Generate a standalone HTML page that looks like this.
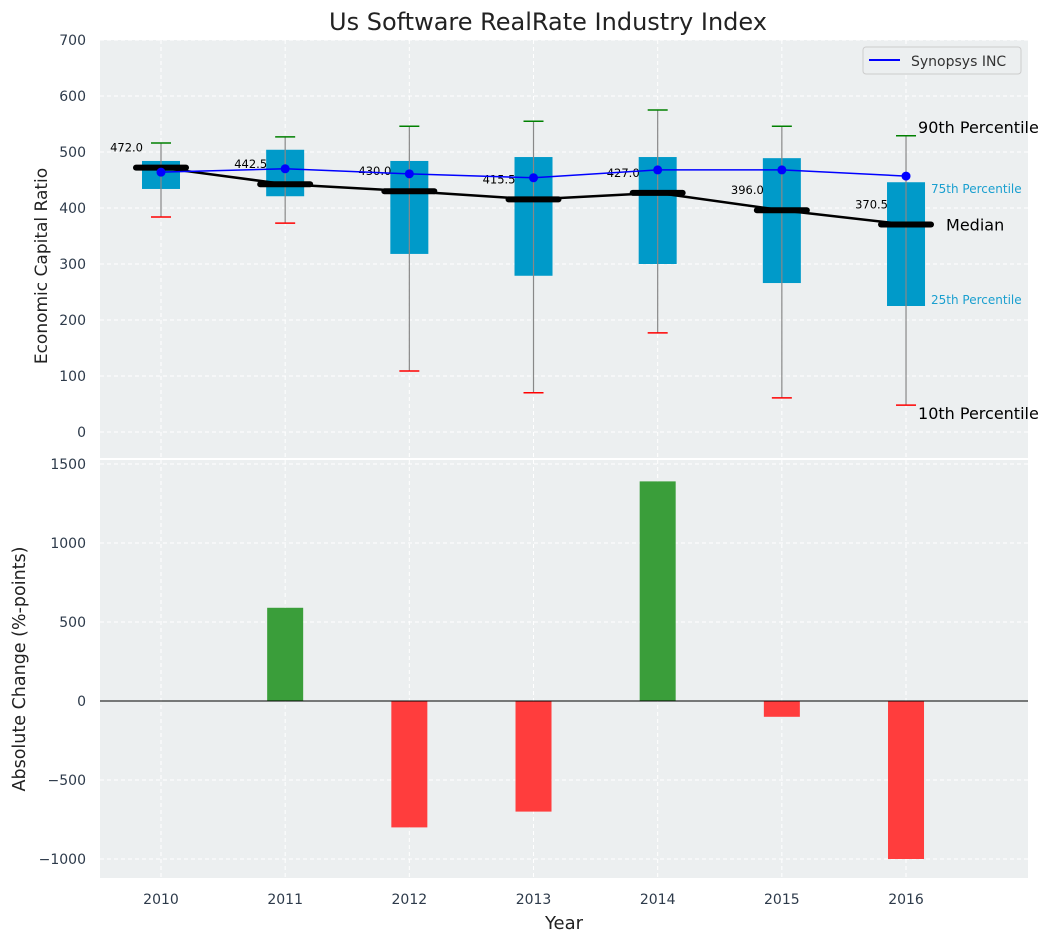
<!DOCTYPE html>
<html><head><meta charset="utf-8"><style>
body{margin:0;background:#fff;font-family:"Liberation Sans","DejaVu Sans",sans-serif}
svg text{font-family:"DejaVu Sans","Liberation Sans",sans-serif}
</style></head><body>
<svg id="c" width="1053" height="942" viewBox="0 0 1053 942"></svg>
<script>
const years=[2010,2011,2012,2013,2014,2015,2016];
const p10=[384,373,109,70,177,61,48];
const p25=[434,421,318,279,300,266,225];
const median=[472,442.5,430,415.5,427,396,370.5];
const p75=[484,504,484,491,491,489,446];
const p90=[516,527,546,555,575,546,529];
const company=[464,470,461,454,468,468,457];
const changes=[0,590,-800,-700,1390,-100,-1000];
const yTicks1=[0,100,200,300,400,500,600,700];
const yTicks2=[-1000,-500,0,500,1000,1500];

const NS="http://www.w3.org/2000/svg";
const svg=document.getElementById('c');
function el(t,a,p){const e=document.createElementNS(NS,t);for(const k in a)e.setAttribute(k,a[k]);(p||svg).appendChild(e);return e;}
const L=100,R=1028;
const x=v=>161+(v-2010)*124.17;
const y1=v=>432-v*0.56;
const y2=v=>701-v*0.158;

let bg1=el('rect',{x:L,y:40,width:R-L,height:418,fill:'#eceff0'});

let bg2=el('rect',{x:L,y:460,width:R-L,height:418,fill:'#eceff0'});


years.forEach(yr=>{
 el('line',{x1:x(yr),x2:x(yr),y1:40,y2:458,stroke:'#fff','stroke-dasharray':'4,3'});
 el('line',{x1:x(yr),x2:x(yr),y1:460,y2:878,stroke:'#fff','stroke-dasharray':'4,3'});
 let t=el('text',{x:x(yr),y:904,'text-anchor':'middle','font-size':14,fill:'#2d3a4a'});t.textContent=yr;
 
});
yTicks1.forEach(v=>{
 el('line',{x1:L,x2:R,y1:y1(v),y2:y1(v),stroke:'#fff','stroke-dasharray':'4,3'});
 let t=el('text',{x:86,y:y1(v)+5,'text-anchor':'end','font-size':14,fill:'#2d3a4a'});t.textContent=v;
 
});
yTicks2.forEach(v=>{
 el('line',{x1:L,x2:R,y1:y2(v),y2:y2(v),stroke:'#fff','stroke-dasharray':'4,3'});
 let t=el('text',{x:86,y:y2(v)+5,'text-anchor':'end','font-size':14,fill:'#2d3a4a'});t.textContent=(v<0?'\u2212'+(-v):v);
 
});

years.forEach((yr,i)=>{
 const cx=x(yr);
 let b=el('rect',{x:cx-19,y:y1(p75[i]),width:38,height:y1(p25[i])-y1(p75[i]),fill:'#009ac9'});
 
 el('line',{x1:cx,x2:cx,y1:y1(p90[i]),y2:y1(p10[i]),stroke:'#888','stroke-width':1.2});
 let g=el('line',{x1:cx-10,x2:cx+10,y1:y1(p90[i]),y2:y1(p90[i]),stroke:'green','stroke-width':1.5});
 
 let r=el('line',{x1:cx-10,x2:cx+10,y1:y1(p10[i]),y2:y1(p10[i]),stroke:'red','stroke-width':1.5});
 
});
let mp=el('polyline',{points:years.map((yr,i)=>x(yr)+','+y1(median[i])).join(' '),fill:'none',stroke:'#000','stroke-width':2.5});

years.forEach((yr,i)=>{
 const cx=x(yr);
 let m=el('line',{x1:cx-25,x2:cx+25,y1:y1(median[i]),y2:y1(median[i]),stroke:'#000','stroke-width':6,'stroke-linecap':'round'});
 
 let t=el('text',{x:cx-18,y:y1(median[i])-16,'text-anchor':'end','font-size':11.5,fill:'#000'});t.textContent=median[i].toFixed(1);
 
});
let cl=el('polyline',{points:years.map((yr,i)=>x(yr)+','+y1(company[i])).join(' '),fill:'none',stroke:'#0000ff','stroke-width':1.5});

years.forEach((yr,i)=>{
 let c=el('circle',{cx:x(yr),cy:y1(company[i]),r:4.5,fill:'#0000ff'});
 
});
const lx=x(2016);
[['90th Percentile',lx+12,y1(p90[6])-3,16,'#000'],['10th Percentile',lx+12,y1(p10[6])+14,16,'#000'],
 ['Median',lx+40,y1(median[6])+6,16,'#000'],['75th Percentile',lx+25,y1(p75[6])+11,12,'#1a9fcf'],['25th Percentile',lx+25,y1(p25[6])-2,12,'#1a9fcf']].forEach(a=>{
 let t=el('text',{x:a[1],y:a[2],'font-size':a[3],fill:a[4]});t.textContent=a[0];
 
});
let lg=el('rect',{x:863,y:47,width:158,height:27,rx:3,fill:'#eceff0',stroke:'#ccc'});

el('line',{x1:869,x2:900,y1:60,y2:60,stroke:'#0000ff','stroke-width':2});
let lt=el('text',{x:911,y:66,'font-size':14,fill:'#333'});lt.textContent='Synopsys INC';


years.forEach((yr,i)=>{
 const v=changes[i];
 if(v===0)return;
 let b=el('rect',{x:x(yr)-18,y:Math.min(y2(v),y2(0)),width:36,height:Math.abs(y2(v)-y2(0)),fill:v>0?'#3a9e3a':'#ff3d3d'});
 
});
el('line',{x1:L,x2:R,y1:y2(0),y2:y2(0),stroke:'#000','stroke-width':1});

let tt=el('text',{x:548,y:30,'text-anchor':'middle','font-size':24,fill:'#222'});tt.textContent='Us Software RealRate Industry Index';

let ya=el('text',{x:47,y:266,'text-anchor':'middle','font-size':17,fill:'#222',transform:'rotate(-90 47 266)'});ya.textContent='Economic Capital Ratio';

let yb=el('text',{x:25,y:669,'text-anchor':'middle','font-size':17.5,fill:'#222',transform:'rotate(-90 25 669)'});yb.textContent='Absolute Change (%-points)';

let xt=el('text',{x:564,y:929,'text-anchor':'middle','font-size':18,fill:'#222'});xt.textContent='Year';

</script>
</body></html>
